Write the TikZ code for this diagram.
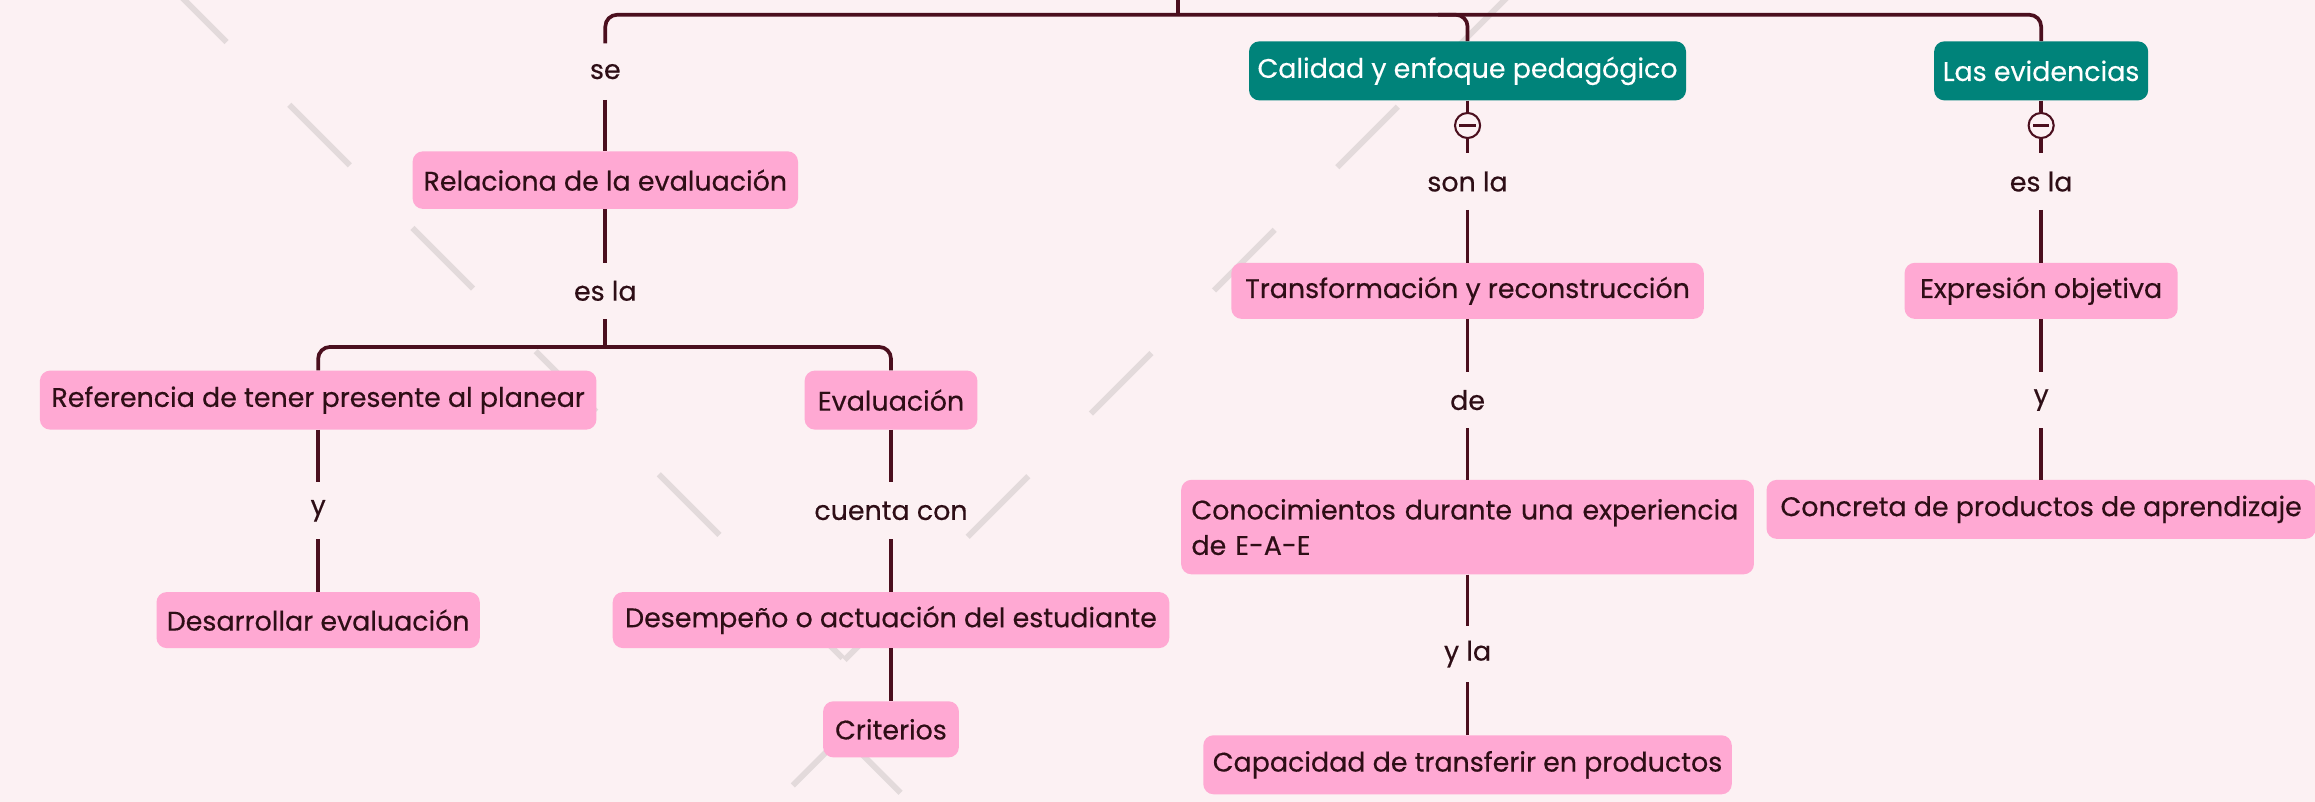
\documentclass[tikz,border=0pt]{standalone}
\usepackage{fontspec}
\setmainfont{Poppins}[FakeBold=0.4]
\usetikzlibrary{calc}
\definecolor{bg}{HTML}{FCF1F3}
\definecolor{pinkbox}{HTML}{FFA9D3}
\definecolor{tealbox}{HTML}{00837A}
\definecolor{conncol}{HTML}{4B0F1E}
\definecolor{txt}{HTML}{2E0E16}
\definecolor{wm}{HTML}{E3DADB}
\begin{document}
\begin{tikzpicture}[x=1pt,y=-1pt,
  every node/.style={font=\fontsize{18.2}{24}\selectfont, text=txt},
  pbox/.style={fill=pinkbox, rounded corners=7pt, minimum height=39pt, inner sep=0pt, align=center},
  tbox/.style={fill=tealbox, text=white, rounded corners=7pt, minimum height=40pt, inner sep=0pt},
  lbl/.style={minimum height=38pt, inner sep=0pt},
  conn/.style={draw=conncol, line width=2.5pt},
  collapse/.style={circle, draw=conncol, line width=1.4pt, fill=bg, minimum size=17pt, inner sep=0pt},
  wmline/.style={draw=wm, line width=4pt, dash pattern=on 58pt off 60pt}
]
% background and bounding box
\fill[bg] (0,0) rectangle (1568,543);
\useasboundingbox (0,0) rectangle (1568,543);

% watermark
\draw[wmline] (112.5,-12.5) -- (572,447);
\draw[wmline] (572,447) -- (1040,-21);
\draw[draw=wm, line width=4pt] (537,532) -- (571,498) -- (610,537);

% coordinates of the top bar
\coordinate (root) at (798,0);
\coordinate (top) at (798,10);
\coordinate (bar2) at (0,235);

% branch 1
\node[lbl] (se) at (410,48.5) {se};
\node[pbox, minimum width=261pt] (rel) at (410,122) {Relaciona de la evaluación};
\node[lbl] (esla1) at (410,197) {es la};
\node[pbox, minimum width=377pt, minimum height=40pt] (ref) at (215.5,271) {Referencia de tener presente al planear};
\node[pbox, minimum width=117pt, minimum height=40pt] (evalu) at (603.5,271) {Evaluación};
\node[lbl] (y1) at (215.5,346) {y};
\node[lbl] (cuenta) at (603.5,346) {cuenta con};
\node[pbox, minimum width=219pt, minimum height=38pt] (desa) at (215.5,420) {Desarrollar evaluación};
\node[pbox, minimum width=377pt, minimum height=38pt] (desem) at (603.5,420) {Desempeño o actuación del estudiante};
\node[pbox, minimum width=92pt, minimum height=38pt] (crit) at (603.5,494) {Criterios};

% branch 2
\node[tbox, minimum width=296pt] (cal) at (994,48) {Calidad y enfoque pedagógico};
\node[collapse] (c1) at (994,85) {};
\node[lbl] (sonla) at (994,123) {son la};
\node[pbox, minimum width=320pt, minimum height=38pt] (trans) at (994,197) {Transformación y reconstrucción};
\node[lbl] (de) at (994,271) {de};
\node[pbox, minimum width=388pt, minimum height=64pt, text width=374pt, align=left] (con) at (994,357) {Conocimientos durante una experiencia\\de E-A-E};
\node[lbl] (yla) at (994,443) {y la};
\node[pbox, minimum width=358pt, minimum height=40pt] (cap) at (994,518) {Capacidad de transferir en productos};

% branch 3
\node[tbox, minimum width=145pt] (evid) at (1382.5,48) {Las evidencias};
\node[collapse] (c2) at (1382.5,85) {};
\node[lbl] (esla2) at (1382.5,123) {es la};
\node[pbox, minimum width=185pt, minimum height=38pt] (expr) at (1382.5,197) {Expresión objetiva};
\node[lbl] (y2) at (1382.5,271) {y};
\node[pbox, minimum width=372pt, minimum height=40pt] (concr) at (1382.5,345) {Concreta de productos de aprendizaje};

% connectors: top bar
\draw[conn] (root) -- (top);
\draw[conn, rounded corners=8pt] (se.north) |- (evid.north |- top) -- (evid.north);
\draw[conn, rounded corners=8pt] ($(cal.north |- top)+(-20,0)$) -| (cal.north);

% branch 1 connectors
\draw[conn] (se.south) -- (rel.north);
\draw[conn] (rel.south) -- (esla1.north);
\draw[conn] (esla1.south) -- (esla1.south |- bar2);
\draw[conn, rounded corners=8pt] (ref.north) |- (evalu.north |- bar2) -- (evalu.north);
\draw[conn] (ref.south) -- (y1.north);
\draw[conn] (y1.south) -- (desa.north);
\draw[conn] (evalu.south) -- (cuenta.north);
\draw[conn] (cuenta.south) -- (desem.north);
\draw[conn] (desem.south) -- (crit.north);

% branch 2 connectors
\draw[conn] (cal.south) -- (c1.north);
\draw[conn] (c1.south) -- (sonla.north);
\draw[conn] (sonla.south) -- (trans.north);
\draw[conn] (trans.south) -- (de.north);
\draw[conn] (de.south) -- (con.north);
\draw[conn] (con.south) -- (yla.north);
\draw[conn] (yla.south) -- (cap.north);

% branch 3 connectors
\draw[conn] (evid.south) -- (c2.north);
\draw[conn] (c2.south) -- (esla2.north);
\draw[conn] (esla2.south) -- (expr.north);
\draw[conn] (expr.south) -- (y2.north);
\draw[conn] (y2.south) -- (concr.north);

% minus signs in collapse buttons
\draw[draw=conncol, line width=1.6pt] ([xshift=-5.5pt]c1.center) -- ([xshift=5.5pt]c1.center);
\draw[draw=conncol, line width=1.6pt] ([xshift=-5.5pt]c2.center) -- ([xshift=5.5pt]c2.center);
\end{tikzpicture}
\end{document}
